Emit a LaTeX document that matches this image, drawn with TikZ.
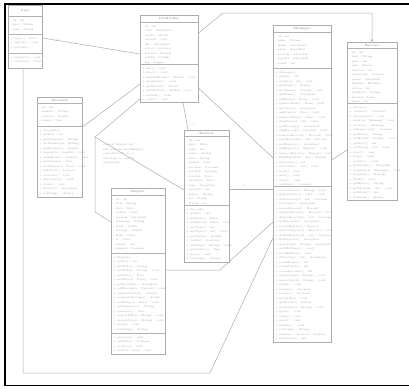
\documentclass[tikz,border=0pt]{standalone}
\usetikzlibrary{arrows.meta}
\tikzset{
  box/.style={draw=gray!65, line width=0.5pt, fill=white, inner sep=0pt, anchor=north west},
  txt/.style={anchor=west, inner sep=0pt, font=\fontsize{2.7}{3}\selectfont, text=gray!75},
  ttl/.style={anchor=center, inner sep=0pt, font=\fontsize{3}{3.2}\selectfont\bfseries, text=gray!85},
  sepline/.style={draw=gray!60, line width=0.4pt},
  link/.style={draw=gray!65, line width=0.5pt},
  lbl/.style={inner sep=0pt, font=\fontsize{2.7}{3}\selectfont, text=gray!70},
}
\newcommand\fillbox[5]{\foreach \t [count=\i] in #5 {\node[txt] (#1\i) at (#2,#3+\i*#4) {\t};}}
\begin{document}
\begin{tikzpicture}[x=1pt,y=-1pt]
\useasboundingbox (0,0) rectangle (409,388);
\fill[white] (0,0) rectangle (409,388);
\draw[line width=1.4pt] (5,4) rectangle (414,385.5);

% ---------- boxes ----------
\node[box, minimum width=34pt, minimum height=63pt] (b1) at (8,5) {};
\node[box, minimum width=58pt, minimum height=87pt] (b2) at (140,15) {};
\node[box, minimum width=58pt, minimum height=317pt] (b3) at (273,25) {};
\node[box, minimum width=50pt, minimum height=158pt] (b4) at (347,42) {};
\node[box, minimum width=45pt, minimum height=100pt] (b5) at (37,97) {};
\node[box, minimum width=45pt, minimum height=132pt] (b6) at (184,130) {};
\node[box, minimum width=54pt, minimum height=166pt] (b7) at (111,188) {};

% ---------- connectors ----------
\draw[link] (b1.east |- 0,38) -- (b2.west |- 0,54);
\node[lbl] (l1) at (56,40) {1..*};
\draw[link] (b1.south -| 23,0) -- (23,373) -- (210,373) -- (b3.west |- 0,238);
\draw[link] (b5.east |- 0,127) -- (b2.west |- 0,84);
\draw[link] (b2.west |- 0,99) -- (95,137) -- (95,212) -- (b7.west |- 0,222);
\draw[link] (b6.west |- 0,190) -- (95,137);
\draw[link] (b2.south -| 183,0) -- (b6.north -| 188,0);
\node[lbl] (l2) at (192,125) {1..*};
\draw[link] (b2.east |- 0,88) -- (b3.west |- 0,158);
\draw[link] (b6.east |- 0,189) -- (b3.west |- 0,189);
\node[lbl] (l3) at (244,186) {1};
\draw[link] (b7.east |- 0,270) -- (220,270) -- (b3.west |- 0,222);
\draw[link] (b3.east |- 0,160) -- (b4.west |- 0,150);
\draw[link, -{Stealth[length=3pt,width=2.4pt]}] (b2.east |- 0,33) -- (223,13) -- (372,13) -- (b4.north -| 372,0);

% ---------- note ----------
\fillbox{nt}{103}{140.5}{4.5}{{context Report inv:, self.records->notEmpty(), and self.total >= 0, self.from <= self.to, \{ordered\}}}

% ---------- B1 ----------
\node[ttl] (t1) at (25,10.5) {User};
\draw[sepline] (8,16) -- (42,16);
\draw[sepline] (8,34) -- (42,34);
\draw[sepline] (8,53) -- (42,53);
\fillbox{b1a}{10}{16}{4.5}{{- id : int, - user : String, - pass : String}}
\fillbox{b1b}{10}{34}{4.5}{{+ login() : bool, + logout() : void, + getUser()}}
\fillbox{b1c}{10}{53}{4.5}{{+ register() : void, + validate() : bool}}

% ---------- B2 ----------
\node[ttl] (t2) at (169,18.5) {Controller};
\draw[sepline] (140,22) -- (198,22);
\draw[sepline] (140,64) -- (198,64);
\fillbox{b2a}{142}{22}{4.5}{{- id : int, - view : MainView, - model : Model, - current : User, - list : ArrayList, - active : boolean, - session : Session, - config : Config, - log : Logger}}
\fillbox{b2b}{142}{64}{4.5}{{+ init() : void, + start() : void, + handleEvent(e : Event) : void, + showView() : void, + getModel() : Model, + setModel(m : Model) : void, + refresh() : void, + close() : void}}

% ---------- B3 ----------
\node[ttl] (t3) at (302,28.5) {Manager};
\draw[sepline] (273,32) -- (331,32);
\draw[sepline] (273,68) -- (331,68);
\draw[sepline] (273,186) -- (331,186);
\fillbox{b3a}{275}{32}{4.5}{{- id : int, - name : String, - items : ArrayList, - users : ArrayList, - records : ArrayList, - reports : ArrayList, - count : int}}
\fillbox{b3b}{275}{68}{4.5}{{+ Manager(), + getId() : int, + setId(id : int) : void, + getName() : String, + setName(n : String) : void, + getItems() : ArrayList, + addItem(i : Item) : void, + removeItem(i : Item) : void, + getUsers() : ArrayList, + addUser(u : User) : void, + removeUser(u : User) : void, + findUser(id : int) : User, + getRecords() : ArrayList, + addRecord(r : Record) : void, + removeRecord(r : Record) : void, + findRecord(id : int) : Record, + getReports() : ArrayList, + addReport(r : Report) : void, + removeReport(r : Report) : void, + findReport(id : int) : Report, + getCount() : int, + setCount(c : int) : void, + load() : void, + save() : void, + clear() : void, + validate() : boolean}}
\fillbox{b3c}{275}{186}{4.5}{{+ createUser(n : String) : User, + updateUser(u : User) : void, + deleteUser(id : int) : boolean, + listUsers() : ArrayList, + createRecord() : Record, + updateRecord(r : Record) : void, + deleteRecord(id : int) : boolean, + listRecords() : ArrayList, + createReport() : Report, + updateReport(r : Report) : void, + deleteReport(id : int) : boolean, + listReports() : ArrayList, + search(key : String) : ArrayList, + sortByName() : void, + sortByDate() : void, + filter(type : int) : ArrayList, + countItems() : int, + countUsers() : int, + countRecords() : int, + export(path : String) : void, + import(path : String) : void, + print() : void, + backup() : boolean, + restore() : boolean, + notifyAll() : void, + getStatus() : String, + setStatus(s : String) : void, + open() : void, + close() : void, + reset() : void, + update() : void, + toString() : String, + equals(o : Object) : boolean, + hashCode() : int}}

% ---------- B4 ----------
\node[ttl] (t4) at (372,45) {Service};
\draw[sepline] (347,48) -- (397,48);
\draw[sepline] (347,103) -- (397,103);
\fillbox{b4a}{349}{48}{4.5}{{- id : int, - host : String, - port : int, - user : String, - timeout : int, - connected : boolean, - queue : ArrayList, - handler : Handler, - retries : int, - lastError : String, - started : Date, - mode : int}}
\fillbox{b4b}{349}{103}{4.5}{{+ Service(), + connect() : boolean, + disconnect() : void, + send(m : Message) : void, + receive() : Message, + isConnected() : boolean, + getHost() : String, + setHost(h : String) : void, + getPort() : int, + setPort(p : int) : void, + start() : void, + stop() : void, + restart() : void, + getQueue() : ArrayList, + enqueue(m : Message) : void, + dequeue() : Message, + flush() : void, + getError() : String, + setMode(m : int) : void, + getMode() : int, + toString() : String}}

% ---------- B5 ----------
\node[ttl] (t5) at (59.5,100.2) {Account};
\draw[sepline] (37,103) -- (82,103);
\draw[sepline] (37,126) -- (82,126);
\fillbox{b5a}{39}{103}{4.5}{{- id : int, - number : String, - balance : double, - owner : User}}
\fillbox{b5b}{39}{126}{4.5}{{+ Account(), + getId() : int, + getNumber() : String, + setNumber(n : String), + getBalance() : double, + deposit(a : double) : void, + withdraw(a : double) : void, + getOwner() : User, + setOwner(u : User) : void, + isActive() : boolean, + activate() : void, + deactivate() : void, + close() : void, + history() : ArrayList, + toString() : String}}

% ---------- B6 ----------
\node[ttl] (t6) at (206.5,133.2) {Record};
\draw[sepline] (184,136) -- (229,136);
\draw[sepline] (184,205) -- (229,205);
\fillbox{b6a}{186}{136}{4.5}{{- id : int, - date : Date, - type : int, - value : double, - note : String, - author : User, - account : Account, - verified : boolean, - created : Date, - modified : Date, - tags : ArrayList, - priority : int, - source : String, - ref : String, - status : int}}
\fillbox{b6b}{186}{205}{4.5}{{+ Record(), + getId() : int, + getDate() : Date, + setDate(d : Date) : void, + getType() : int, + setType(t : int) : void, + getValue() : double, + verify() : boolean, + addTag(t : String) : void, + getAuthor() : User, + save() : void, + toString() : String}}

% ---------- B7 ----------
\node[ttl] (t7) at (138,191.5) {Report};
\draw[sepline] (111,195) -- (165,195);
\draw[sepline] (111,253) -- (165,253);
\draw[sepline] (111,333) -- (165,333);
\fillbox{b7a}{113}{195}{4.5}{{- id : int, - title : String, - date : Date, - author : User, - records : ArrayList, - summary : String, - total : double, - average : double, - from : Date, - to : Date, - format : int, - printed : boolean}}
\fillbox{b7b}{113}{253}{4.5}{{+ Report(), + getId() : int, + getTitle() : String, + setTitle(t : String) : void, + getDate() : Date, + setDate(d : Date) : void, + getRecords() : ArrayList, + addRecord(r : Record) : void, + computeTotal() : double, + computeAverage() : double, + setRange(f : Date) : void, + getSummary() : String, + generate() : void, + exportPdf(p : String) : void, + exportCsv(p : String) : void, + print() : void, + toString() : String}}
\fillbox{b7c}{113}{333}{4.5}{{+ preview() : void, + validate() : boolean, + archive() : void, + send(u : User) : void}}
\end{tikzpicture}
\end{document}
